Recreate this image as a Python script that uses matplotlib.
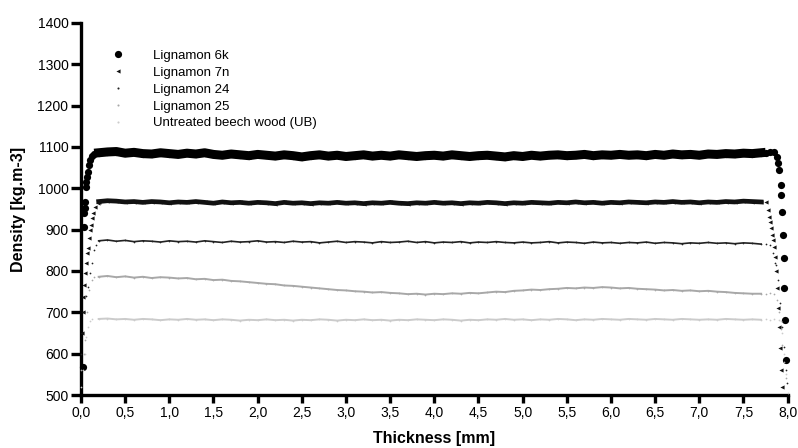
import numpy as np
import matplotlib
matplotlib.use('Agg')
import matplotlib.pyplot as plt
from matplotlib.lines import Line2D
from matplotlib.ticker import FuncFormatter, MultipleLocator

plt.rcParams['font.family'] = ['Liberation Sans', 'DejaVu Sans']

# measurement positions of the flat middle part of each profile [mm]
plateau_x = np.linspace(0.2, 7.7, 76)

# Lignamon 6k
k6_left_x = [0.02, 0.03, 0.035, 0.04, 0.045, 0.055, 0.06, 0.065, 0.075, 0.085, 0.1, 0.12, 0.15]
k6_left_y = [568, 907, 940, 952, 968, 1004, 1016, 1028, 1040, 1056, 1069, 1078, 1084]
k6_mid_y = [1086, 1088, 1089, 1085, 1087, 1084, 1083, 1086, 1084, 1082,
            1085, 1083, 1086, 1082, 1080, 1083, 1081, 1079, 1082, 1080,
            1078, 1081, 1079, 1076, 1079, 1081, 1078, 1080, 1077, 1079,
            1081, 1078, 1080, 1078, 1081, 1079, 1077, 1079, 1080, 1078,
            1081, 1079, 1077, 1079, 1080, 1078, 1076, 1079, 1077, 1080,
            1078, 1080, 1081, 1079, 1080, 1082, 1079, 1081, 1080, 1082,
            1080, 1081, 1079, 1082, 1080, 1083, 1081, 1082, 1080, 1083,
            1082, 1084, 1083, 1085, 1084, 1086]
k6_right_x = [7.75, 7.8, 7.85, 7.88, 7.89, 7.9, 7.92, 7.925, 7.935, 7.95, 7.955, 7.96, 7.97, 7.98]
k6_right_y = [1086, 1087, 1088, 1075, 1061, 1044, 1008, 984, 943, 887, 831, 758, 681, 585]

# Lignamon 7n
n7_left_x = [0.01, 0.02, 0.025, 0.035, 0.045, 0.06, 0.07, 0.08, 0.095, 0.105, 0.115, 0.13, 0.14, 0.16, 0.19]
n7_left_y = [650, 700, 738, 766, 794, 819, 843, 855, 879, 899, 911, 928, 940, 955, 965]
n7_mid_y = [968, 970, 969, 967, 968, 966, 968, 967, 965, 967,
            966, 968, 966, 964, 967, 965, 966, 964, 966, 965,
            963, 966, 964, 965, 963, 965, 964, 966, 964, 965,
            963, 965, 964, 966, 964, 963, 965, 964, 966, 964,
            965, 963, 965, 964, 966, 965, 963, 965, 964, 966,
            965, 964, 966, 965, 967, 965, 966, 964, 966, 965,
            967, 966, 965, 967, 966, 968, 966, 967, 965, 967,
            966, 968, 967, 969, 968, 967]
n7_right_x = [7.75, 7.78, 7.79, 7.8, 7.81, 7.82, 7.835, 7.85, 7.86, 7.87, 7.88, 7.89, 7.9, 7.91, 7.925, 7.94]
n7_right_y = [966, 948, 931, 919, 903, 887, 875, 859, 835, 800, 759, 710, 665, 614, 560, 520]

# Lignamon 24
l24_left_x = [0.0, 0.03, 0.06, 0.083, 0.105, 0.12, 0.15, 0.17]
l24_left_y = [600, 700, 740, 761, 795, 819, 851, 863]
l24_mid_y = [873, 875, 872, 874, 871, 873, 872, 870, 873, 871,
             872, 870, 873, 871, 869, 872, 870, 871, 873, 870,
             871, 869, 872, 870, 871, 868, 870, 872, 869, 871,
             870, 868, 871, 869, 870, 872, 869, 871, 868, 870,
             869, 871, 868, 870, 869, 871, 869, 868, 870, 868,
             869, 871, 868, 870, 869, 867, 870, 868, 869, 867,
             869, 868, 870, 867, 869, 868, 866, 868, 867, 869,
             867, 868, 866, 868, 867, 865]
l24_right_x = [7.75, 7.8, 7.835, 7.86, 7.87, 7.89, 7.91, 7.935, 7.96, 7.98, 7.995]
l24_right_y = [866, 864, 843, 819, 815, 778, 722, 665, 616, 560, 529]

# Lignamon 25
l25_left_x = [0.0, 0.03, 0.05, 0.07, 0.09, 0.12, 0.15]
l25_left_y = [560, 600, 633, 700, 754, 778, 785]
l25_mid_y = [786, 788, 785, 787, 784, 786, 783, 785, 784, 782,
             783, 780, 781, 778, 779, 776, 775, 773, 771, 769,
             768, 765, 764, 762, 760, 758, 756, 754, 753, 751,
             750, 748, 749, 747, 746, 744, 745, 743, 745, 744,
             746, 745, 747, 746, 748, 750, 749, 752, 753, 755,
             754, 756, 757, 759, 758, 760, 759, 761, 760, 758,
             759, 757, 756, 755, 753, 754, 752, 753, 751, 752,
             750, 749, 747, 746, 745, 745]
l25_right_x = [7.75, 7.8, 7.85, 7.88, 7.9, 7.92, 7.94, 7.96, 7.98]
l25_right_y = [745, 746, 745, 730, 700, 660, 620, 580, 540]

# Untreated beech wood
ub_left_x = [0.0, 0.02, 0.04, 0.06, 0.08, 0.1, 0.13]
ub_left_y = [520, 560, 600, 640, 665, 678, 683]
ub_mid_y = [684, 685, 683, 684, 682, 684, 683, 681, 683, 682,
            684, 682, 683, 681, 683, 682, 680, 682, 681, 683,
            681, 682, 680, 682, 681, 683, 682, 680, 682, 681,
            683, 681, 682, 680, 682, 681, 683, 682, 681, 683,
            682, 680, 682, 681, 683, 682, 684, 682, 683, 681,
            683, 682, 684, 683, 681, 683, 682, 684, 683, 682,
            684, 683, 682, 684, 683, 682, 684, 683, 682, 683,
            682, 684, 683, 682, 683, 682]
ub_right_x = [7.75, 7.8, 7.85, 7.9, 7.92, 7.94, 7.96, 7.98, 8.0]
ub_right_y = [683, 682, 683, 682, 680, 650, 600, 550, 505]

labels = ['Lignamon 6k', 'Lignamon 7n', 'Lignamon 24', 'Lignamon 25',
          'Untreated beech wood (UB)']

series = [
    (k6_left_x, k6_left_y, k6_mid_y, k6_right_x, k6_right_y),
    (n7_left_x, n7_left_y, n7_mid_y, n7_right_x, n7_right_y),
    (l24_left_x, l24_left_y, l24_mid_y, l24_right_x, l24_right_y),
    (l25_left_x, l25_left_y, l25_mid_y, l25_right_x, l25_right_y),
    (ub_left_x, ub_left_y, ub_mid_y, ub_right_x, ub_right_y),
]

# style per series: colour, marker, marker size, line width in the flat part
styles = [
    ('black', 'o', 5.2, 6.5),
    ('#111111', '<', 3.0, 3.4),
    ('#222222', '.', 2.5, 1.2),
    ('#a8a8a8', '.', 2.5, 1.4),
    ('#cbcbcb', '.', 2.5, 1.4),
]

fig = plt.figure(figsize=(7.98, 4.48), dpi=100)
ax = fig.add_axes([0.1015, 0.1183, 0.8855, 0.8304])

for (lx, ly, my, rx, ry), (col, mk, ms, lw) in zip(series, styles):
    x_all = np.concatenate([lx, plateau_x, rx])
    y_all = np.concatenate([ly, my, ry])
    ax.plot(plateau_x, my, '-', color=col, lw=lw, zorder=3)
    ax.plot(x_all, y_all, linestyle='none', marker=mk, ms=ms, color=col,
            markeredgewidth=0, clip_on=False, zorder=4)

ax.set_xlim(0, 8)
ax.set_ylim(500, 1400)
ax.xaxis.set_major_locator(MultipleLocator(0.5))
ax.yaxis.set_major_locator(MultipleLocator(100))
ax.xaxis.set_major_formatter(FuncFormatter(lambda v, pos: f'{v:.1f}'.replace('.', ',')))

for s in ['top', 'right']:
    ax.spines[s].set_visible(False)
for s in ['left', 'bottom']:
    ax.spines[s].set_linewidth(2.4)

ax.tick_params(axis='both', direction='out', width=2.4, labelsize=10, color='black')
ax.tick_params(axis='x', length=6, pad=2)
ax.tick_params(axis='y', length=7, pad=2)

ax.set_xlabel('Thickness [mm]', fontsize=11.5, fontweight='bold', labelpad=8)
ax.set_ylabel('Density [kg.m-3]', fontsize=11.5, fontweight='bold', labelpad=8)

handles = [Line2D([], [], linestyle='none', marker=mk, ms=max(ms, 3), color=col, markeredgewidth=0)
           for (col, mk, ms, lw) in styles]
ax.legend(handles, labels, loc='upper left', bbox_to_anchor=(0.025, 0.96), frameon=False,
          fontsize=9.5, handlelength=1.2, handletextpad=2.0, labelspacing=0.35)

fig.savefig('out.png', dpi=100)
